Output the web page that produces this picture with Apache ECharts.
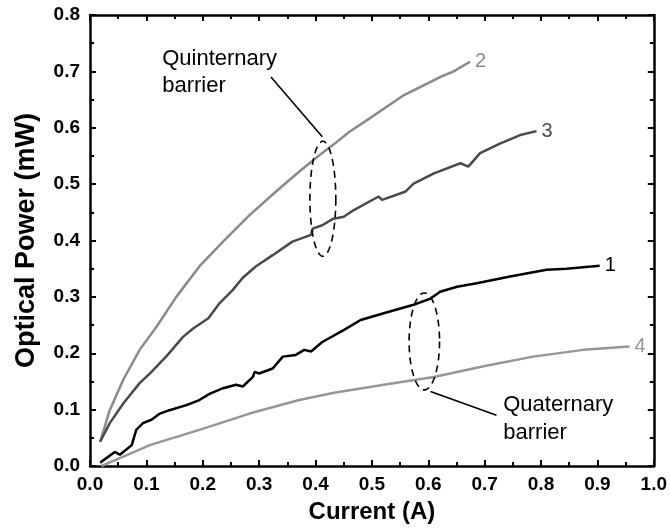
<!DOCTYPE html>
<html><head><meta charset="utf-8">
<script src="https://cdn.jsdelivr.net/npm/echarts@6/dist/echarts.min.js"></script>
<style>html,body{margin:0;padding:0;background:#fff}#c{width:670px;height:529px}</style>
</head><body><div id="c"></div>
<script>
const xTicks = [0,0.1,0.2,0.3,0.4,0.5,0.6,0.7,0.8,0.9,1.0];
const yTicks = [0,0.1,0.2,0.3,0.4,0.5,0.6,0.7,0.8];
const curve1 = [[0.018,0.006],[0.044,0.025],[0.053,0.02],[0.074,0.037],[0.082,0.064],[0.094,0.076],[0.109,0.082],[0.124,0.093],[0.141,0.099],[0.171,0.108],[0.194,0.117],[0.212,0.128],[0.236,0.138],[0.259,0.144],[0.271,0.141],[0.289,0.158],[0.292,0.167],[0.3,0.164],[0.324,0.173],[0.342,0.194],[0.365,0.197],[0.38,0.206],[0.392,0.203],[0.412,0.22],[0.45,0.241],[0.48,0.259],[0.521,0.271],[0.574,0.286],[0.604,0.297],[0.621,0.309],[0.651,0.318],[0.686,0.324],[0.745,0.336],[0.81,0.348],[0.845,0.35],[0.904,0.355]];
const curve2 = [[0.018,0.043],[0.035,0.099],[0.059,0.153],[0.088,0.206],[0.118,0.247],[0.153,0.30],[0.194,0.354],[0.236,0.398],[0.283,0.445],[0.33,0.487],[0.365,0.517],[0.40,0.546],[0.433,0.571],[0.459,0.592],[0.492,0.614],[0.557,0.658],[0.621,0.69],[0.645,0.70],[0.674,0.717]];
const curve3 = [[0.018,0.043],[0.035,0.076],[0.059,0.111],[0.088,0.147],[0.106,0.164],[0.135,0.194],[0.165,0.229],[0.183,0.244],[0.21,0.262],[0.23,0.289],[0.253,0.312],[0.271,0.334],[0.294,0.354],[0.324,0.374],[0.359,0.398],[0.392,0.41],[0.395,0.421],[0.412,0.427],[0.43,0.438],[0.45,0.442],[0.468,0.454],[0.512,0.478],[0.518,0.472],[0.56,0.487],[0.574,0.501],[0.61,0.519],[0.657,0.537],[0.671,0.531],[0.692,0.555],[0.727,0.572],[0.763,0.587],[0.792,0.594]];
const curve4 = [[0.02,0.0],[0.053,0.014],[0.106,0.037],[0.194,0.064],[0.283,0.093],[0.371,0.117],[0.433,0.13],[0.521,0.144],[0.61,0.158],[0.698,0.177],[0.786,0.194],[0.875,0.206],[0.957,0.212]];
const seriesNames = ['1','2','3','4'];
const seriesColors = ['#000000','#8a8a8a','#4a4a4a','#969696'];

const chart = echarts.init(document.getElementById('c'));
const F = 'Liberation Sans, Arial, sans-serif';
function axisCommon(){return {axisLine:{show:true,onZero:false,lineStyle:{color:'#000',width:2.5}},
  axisTick:{show:true,inside:true,length:6,lineStyle:{color:'#000',width:2}},
  minorTick:{show:true,splitNumber:2,length:4,lineStyle:{color:'#000',width:2}},
  splitLine:{show:false}};}
const mk = (name,data,color)=>({type:'line',name,data,showSymbol:false,symbol:'none',
  lineStyle:{color,width:2.5},itemStyle:{color},
  endLabel:{show:true,formatter:name,color,fontSize:20,fontFamily:F,distance:5},animation:false});
chart.setOption({
  animation:false,
  grid:{left:90,right:14,top:15,bottom:63},
  xAxis:[Object.assign(axisCommon(),{type:'value',min:0,max:1,interval:0.1,position:'bottom',
     name:'Current (A)',nameLocation:'middle',nameGap:34,
     nameTextStyle:{fontFamily:F,fontSize:24,fontWeight:'bold',color:'#000'},
     axisLabel:{fontFamily:F,fontSize:19,fontWeight:'bold',color:'#000',margin:9,formatter:v=>v.toFixed(1)}}),
    Object.assign(axisCommon(),{type:'value',min:0,max:1,interval:0.1,position:'top',axisLabel:{show:false}})],
  yAxis:[Object.assign(axisCommon(),{type:'value',min:0,max:0.8,interval:0.1,position:'left',
     name:'Optical Power (mW)',nameLocation:'middle',nameGap:50,
     nameTextStyle:{fontFamily:F,fontSize:27,fontWeight:'bold',color:'#000'},
     axisLabel:{fontFamily:F,fontSize:19,fontWeight:'bold',color:'#000',margin:10,formatter:v=>v.toFixed(1)}}),
    Object.assign(axisCommon(),{type:'value',min:0,max:0.8,interval:0.1,position:'right',axisLabel:{show:false}})],
  series:[mk(seriesNames[0],curve1,seriesColors[0]),mk(seriesNames[1],curve2,seriesColors[1]),
          mk(seriesNames[2],curve3,seriesColors[2]),mk(seriesNames[3],curve4,seriesColors[3])]
});
const P = (x,y)=>chart.convertToPixel({gridIndex:0},[x,y]);
function ellipse(cx,cy,rxd,ryd){
  const c=P(cx,cy), e=P(cx+rxd,cy+ryd); const rx=Math.abs(e[0]-c[0]), ry=Math.abs(e[1]-c[1]);
  const pts=[]; for(let i=0;i<=90;i++){const a=i/90*Math.PI*2; pts.push([c[0]+rx*Math.cos(a), c[1]+ry*Math.sin(a)]);}
  return {type:'polyline',shape:{points:pts},style:{stroke:'#000',lineWidth:1.6,lineDash:[7,5],fill:null},z:10};
}
function seg(a,b){const p=P(a[0],a[1]),q=P(b[0],b[1]);
  return {type:'line',shape:{x1:p[0],y1:p[1],x2:q[0],y2:q[1]},style:{stroke:'#000',lineWidth:1.6},z:10};}
function txt(x,y,t){const p=P(x,y);return {type:'text',x:p[0],y:p[1],style:{text:t,fontFamily:F,fontSize:22,fill:'#000',verticalAlign:'middle',align:'left'},z:10};}
chart.setOption({graphic:[
  ellipse(0.413,0.474,0.023,0.102),
  ellipse(0.593,0.221,0.027,0.086),
  seg([0.321,0.690],[0.412,0.584]),
  seg([0.604,0.132],[0.721,0.09]),
  txt(0.128,0.722,'Quinternary'),
  txt(0.128,0.674,'barrier'),
  txt(0.733,0.108,'Quaternary'),
  txt(0.733,0.059,'barrier')
]});
</script></body></html>
